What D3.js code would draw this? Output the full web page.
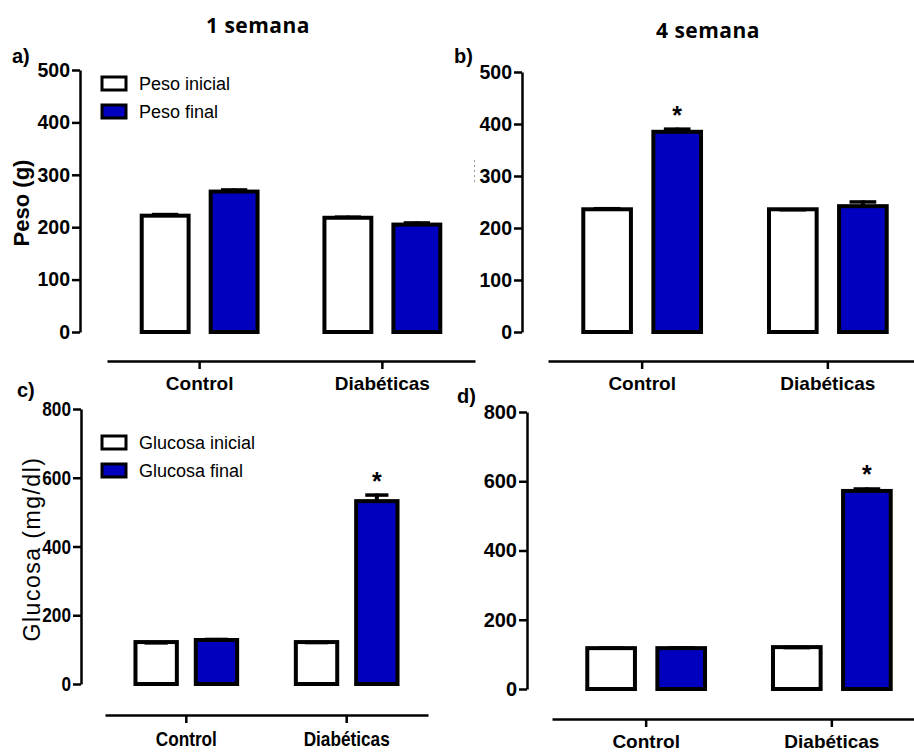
<!DOCTYPE html>
<html>
<head>
<meta charset="utf-8">
<script src="https://cdn.jsdelivr.net/npm/d3@7"></script>
<style>
  body { margin: 0; background: #fff; }
  svg { display: block; }
</style>
</head>
<body>
<svg id="chart" width="914" height="753"></svg>
<script>
// groups on the x axis
const categories = ["Control", "Diabéticas"];

// legend labels
const pesoSeries = ["Peso inicial", "Peso final"];
const glucosaSeries = ["Glucosa inicial", "Glucosa final"];

// weight (g), week 1
const pesoS1Inicial = [222, 218];
const pesoS1InicialErr = [5, 4];
const pesoS1Final = [268, 205];
const pesoS1FinalErr = [6, 6];

// weight (g), week 4
const pesoS4Inicial = [236, 236];
const pesoS4InicialErr = [4, 2];
const pesoS4Final = [385, 242];
const pesoS4FinalErr = [8, 11];

// glucose (mg/dl), week 1
const glucS1Inicial = [122, 122];
const glucS1InicialErr = [2, 3];
const glucS1Final = [128, 532];
const glucS1FinalErr = [6, 22];

// glucose (mg/dl), week 4
const glucS4Inicial = [118, 121];
const glucS4InicialErr = [4, 3];
const glucS4Final = [118, 572];
const glucS4FinalErr = [5, 10];

// significance marks on the "final" series
const pesoS1Sig = [false, false];
const pesoS4Sig = [true, false];
const glucS1Sig = [false, true];
const glucS4Sig = [false, true];

const pesoTicks = [0, 100, 200, 300, 400, 500];
const glucTicks = [0, 200, 400, 600, 800];

const BLUE = "#0000BE";
const FONT = "'Liberation Sans', Arial, sans-serif";
const svg = d3.select("#chart");

function rows(ini, iniErr, fin, finErr, sig) {
  return categories.map((c, i) => [
    { cat: c, s: 0, value: ini[i], err: iniErr[i], sig: false },
    { cat: c, s: 1, value: fin[i], err: finErr[i], sig: sig[i] }
  ]).flat();
}

function drawPanel(p) {
  const g = svg.append("g");
  const data = rows(p.ini, p.iniErr, p.fin, p.finErr, p.sig);
  const squeeze = p.squeeze || 1;

  const x = d3.scaleBand().domain(categories).range(p.xRange)
    .paddingInner(0.366).paddingOuter(0.19);
  const xs = d3.scaleBand().domain([0, 1]).range([0, x.bandwidth()])
    .paddingInner(p.innerPad);
  const y = d3.scaleLinear().domain([0, p.max]).range(p.yRange);

  // y axis
  const ya = g.append("g")
    .attr("transform", `translate(${p.axisX},0)`)
    .call(d3.axisLeft(y).tickValues(p.ticks).tickSize(8).tickSizeOuter(0).tickPadding(2));
  ya.select(".domain").attr("stroke", "#000").attr("stroke-width", 2.5);
  ya.selectAll(".tick line").attr("stroke", "#000").attr("stroke-width", 2.5);
  ya.selectAll(".tick text")
    .attr("fill", "#000")
    .attr("x", -10 / squeeze)
    .attr("transform", `scale(${squeeze},1)`)
    .style("font-family", FONT)
    .style("font-weight", "bold")
    .style("font-size", p.tickSize + "px");

  // x axis (detached, below the plot)
  const xa = g.append("g")
    .attr("transform", `translate(0,${p.xAxisY})`)
    .call(d3.axisBottom(x).tickSize(8).tickSizeOuter(0).tickPadding(8));
  xa.select(".domain").attr("stroke", "#000").attr("stroke-width", 2.5);
  xa.selectAll(".tick line").attr("stroke", "#000").attr("stroke-width", 2.5);
  xa.selectAll(".tick text")
    .attr("fill", "#000")
    .attr("transform", `scale(${squeeze},1)`)
    .style("font-family", FONT)
    .style("font-weight", "bold")
    .style("font-size", p.catSize + "px");

  // bars
  g.selectAll(".bar").data(data).enter().append("rect")
    .attr("class", "bar")
    .attr("x", d => x(d.cat) + xs(d.s))
    .attr("width", xs.bandwidth())
    .attr("y", d => y(d.value))
    .attr("height", d => y(0) - y(d.value))
    .attr("fill", d => d.s === 0 ? "#fff" : BLUE)
    .attr("stroke", "#000")
    .attr("stroke-width", 4);

  // error bars (upper only)
  const cx = d => x(d.cat) + xs(d.s) + xs.bandwidth() / 2;
  const capW = xs.bandwidth() * 0.56;
  g.selectAll(".stem").data(data).enter().append("line")
    .attr("x1", cx).attr("x2", cx)
    .attr("y1", d => y(d.value)).attr("y2", d => y(d.value + d.err))
    .attr("stroke", "#000").attr("stroke-width", 4);
  g.selectAll(".cap").data(data).enter().append("line")
    .attr("x1", d => cx(d) - capW / 2).attr("x2", d => cx(d) + capW / 2)
    .attr("y1", d => y(d.value + d.err) + 1.5).attr("y2", d => y(d.value + d.err) + 1.5)
    .attr("stroke", "#000").attr("stroke-width", 3.5);

  // asterisks
  g.selectAll(".star").data(data.filter(d => d.sig)).enter().append("text")
    .attr("x", cx)
    .attr("y", d => y(d.value + d.err) - 4)
    .attr("text-anchor", "middle")
    .style("font-family", FONT)
    .style("font-weight", "bold")
    .style("font-size", "25px")
    .text("*");

  // legend
  if (p.legend) {
    const lg = g.append("g");
    p.legend.forEach((lab, i) => {
      lg.append("rect")
        .attr("x", 102).attr("y", p.legendY + i * 28)
        .attr("width", 24).attr("height", 13)
        .attr("fill", i === 0 ? "#fff" : BLUE)
        .attr("stroke", "#000").attr("stroke-width", 3);
      lg.append("text")
        .attr("x", 139).attr("y", p.legendY + i * 28 + 13)
        .style("font-family", FONT)
        .style("font-size", "18px")
        .text(lab);
    });
  }

  // y label
  if (p.yLabel) {
    g.append("text")
      .attr("transform", `translate(${p.yLabel.x},${p.yLabel.y}) rotate(-90)`)
      .attr("text-anchor", "middle")
      .style("font-family", FONT)
      .style("font-weight", p.yLabel.weight)
      .style("font-size", p.yLabel.size + "px")
      .style("letter-spacing", p.yLabel.spacing + "px")
      .text(p.yLabel.text);
  }

  // panel letter
  g.append("text")
    .attr("x", p.letterX).attr("y", p.letterY)
    .style("font-family", FONT)
    .style("font-weight", "bold")
    .style("font-size", "20px")
    .text(p.letter);
}

drawPanel({
  ini: pesoS1Inicial, iniErr: pesoS1InicialErr, fin: pesoS1Final, finErr: pesoS1FinalErr, sig: pesoS1Sig,
  max: 500, ticks: pesoTicks, xRange: [107, 475], yRange: [332, 70], axisX: 80, xAxisY: 361,
  innerPad: 0.32, tickSize: 19.5, catSize: 19,
  legend: pesoSeries, legendY: 77,
  yLabel: { text: "Peso (g)", x: 29, y: 203, size: 22, weight: "bold", spacing: 0 },
  letter: "a)", letterX: 12, letterY: 63
});

drawPanel({
  ini: pesoS4Inicial, iniErr: pesoS4InicialErr, fin: pesoS4Final, finErr: pesoS4FinalErr, sig: pesoS4Sig,
  max: 500, ticks: pesoTicks, xRange: [548, 922], yRange: [332, 72], axisX: 522, xAxisY: 361,
  innerPad: 0.32, tickSize: 19.5, catSize: 19,
  letter: "b)", letterX: 454, letterY: 63
});

drawPanel({
  ini: glucS1Inicial, iniErr: glucS1InicialErr, fin: glucS1Final, finErr: glucS1FinalErr, sig: glucS1Sig,
  max: 800, ticks: glucTicks, xRange: [105, 428], yRange: [684, 409], axisX: 81, xAxisY: 715,
  innerPad: 0.314, tickSize: 21, catSize: 21, squeeze: 0.82,
  legend: glucosaSeries, legendY: 436,
  yLabel: { text: "Glucosa (mg/dl)", x: 40, y: 549, size: 23, weight: "normal", spacing: 1.5 },
  letter: "c)", letterX: 17, letterY: 397
});

drawPanel({
  ini: glucS4Inicial, iniErr: glucS4InicialErr, fin: glucS4Final, finErr: glucS4FinalErr, sig: glucS4Sig,
  max: 800, ticks: glucTicks, xRange: [552, 926], yRange: [689, 412], axisX: 527, xAxisY: 719,
  innerPad: 0.32, tickSize: 20, catSize: 19,
  letter: "d)", letterX: 457, letterY: 403
});

// faint scan mark left of panel b's axis
svg.append("line")
  .attr("x1", 474.5).attr("x2", 474.5).attr("y1", 160).attr("y2", 184)
  .attr("stroke", "#999").attr("stroke-width", 1).attr("stroke-dasharray", "2,3");

// column titles
svg.append("text")
  .attr("x", 258).attr("y", 33)
  .attr("text-anchor", "middle")
  .style("font-family", "'Open Sans', sans-serif")
  .style("font-weight", "bold")
  .style("font-size", "21px")
  .style("letter-spacing", "0.5px")
  .text("1 semana");
svg.append("text")
  .attr("x", 708).attr("y", 38)
  .attr("text-anchor", "middle")
  .style("font-family", "'Open Sans', sans-serif")
  .style("font-weight", "bold")
  .style("font-size", "21px")
  .style("letter-spacing", "0.5px")
  .text("4 semana");
</script>
</body>
</html>
